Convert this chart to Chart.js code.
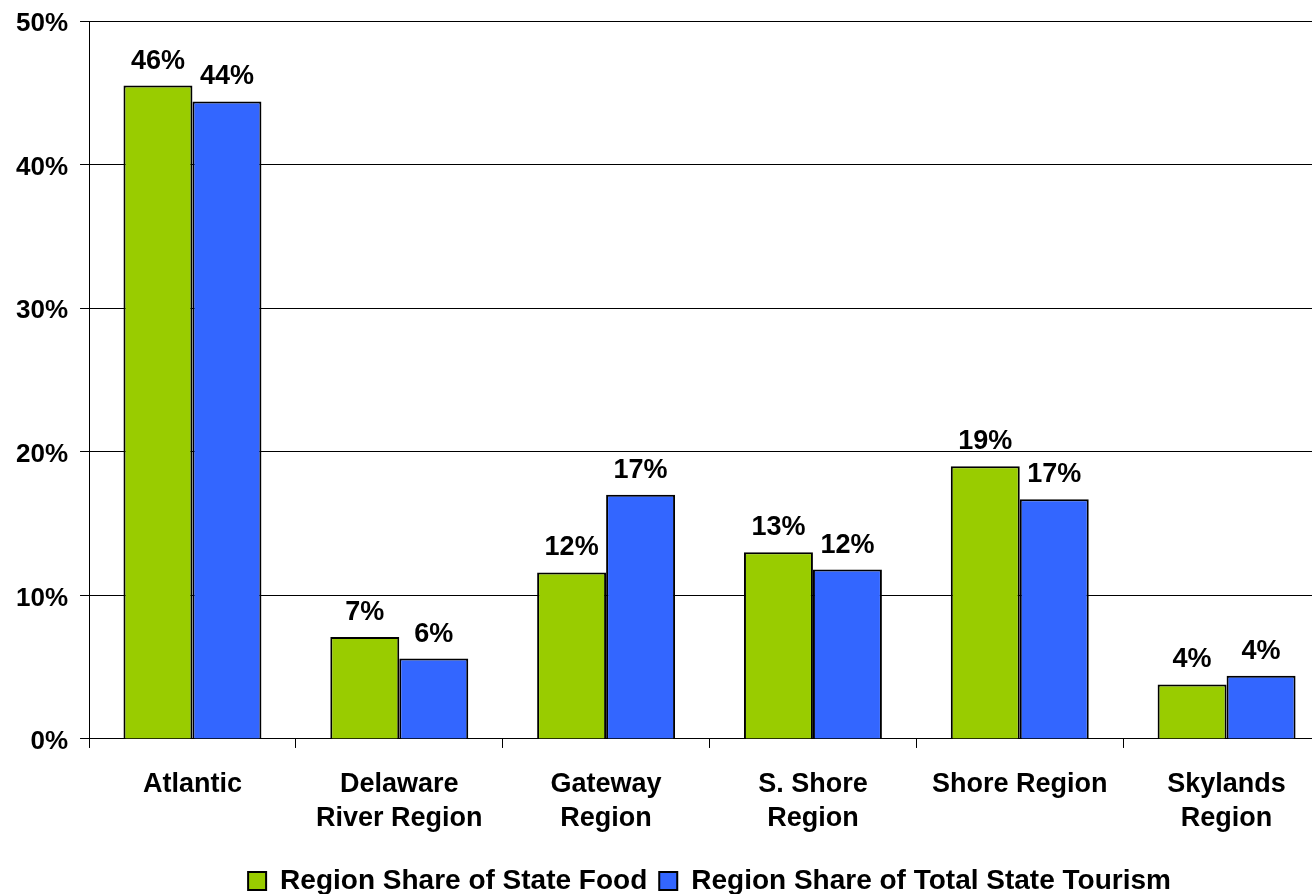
<!DOCTYPE html>
<html>
<head>
<meta charset="utf-8">
<script src="https://cdn.jsdelivr.net/npm/chart.js@4"></script>
<style>
  body { margin: 0; background: #fff; overflow: hidden; }
  #wrap { width: 1312px; height: 894px; overflow: hidden; }
</style>
</head>
<body>
<div id="wrap"><canvas id="grafico" width="1336" height="894"></canvas></div>
<script>
// regioes e valores (%)
var regioes = ['Atlantic', ['Delaware', 'River Region'], ['Gateway', 'Region'], ['S. Shore', 'Region'], 'Shore Region', ['Skylands', 'Region']];
var food = [45.5, 7.1, 11.6, 13.0, 19.0, 3.8];
var tourism = [44.4, 5.6, 17.0, 11.8, 16.7, 4.4];
var yTicks = [0, 10, 20, 30, 40, 50];

Chart.defaults.font.family = '"Liberation Sans", Arial, sans-serif';
Chart.defaults.font.weight = 'bold';
Chart.defaults.color = '#000';

// rotulos em cima das barras
const rotulos = {
    id: 'rotulos',
    afterDatasetsDraw(chart) {
        const ctx = chart.ctx;
        ctx.save();
        ctx.font = 'bold 27px "Liberation Sans", Arial, sans-serif';
        ctx.fillStyle = '#000';
        ctx.textAlign = 'center';
        ctx.textBaseline = 'alphabetic';
        chart.data.datasets.forEach(function (ds, i) {
            chart.getDatasetMeta(i).data.forEach(function (bar, j) {
                ctx.fillText(Math.round(ds.data[j]) + '%', bar.x, bar.y - 17);
            });
        });
        ctx.restore();
    }
};

const data = {
    labels: regioes,
    datasets: [{
        label: 'Region Share of State Food',
        backgroundColor: '#99cc00',
        borderColor: '#000',
        borderWidth: 2,
        data: food
    }, {
        label: 'Region Share of Total State Tourism',
        backgroundColor: '#3366ff',
        borderColor: '#000',
        borderWidth: 2,
        data: tourism
    }]
};

const config = {
    type: 'bar',
    data: data,
    plugins: [rotulos],
    options: {
        responsive: false,
        animation: false,
        layout: { padding: { top: 21, left: 4, right: 6, bottom: -11 } },
        datasets: { bar: { categoryPercentage: 0.667, barPercentage: 1 } },
        plugins: {
            tooltip: { enabled: false },
            legend: {
                position: 'bottom',
                fullSize: false,
                labels: {
                    font: { size: 28, weight: 'bold' },
                    boxWidth: 18,
                    boxHeight: 18,
                    padding: 12,
                    color: '#000'
                }
            }
        },
        scales: {
            y: {
                min: 0,
                max: 50,
                afterBuildTicks: function (axis) {
                    axis.ticks = yTicks.map(function (v) { return { value: v }; });
                },
                ticks: {
                    font: { size: 26, weight: 'bold', lineHeight: 0.6 },
                    color: '#000',
                    padding: 12,
                    labelOffset: 3,
                    callback: function (v) { return v + '%'; }
                },
                grid: { color: '#000', lineWidth: 1, tickLength: 9 },
                border: { color: '#000', width: 1 }
            },
            x: {
                afterFit: function (escala) { escala.height -= 1; },
                ticks: { font: { size: 27, weight: 'bold', lineHeight: 1.26 }, color: '#000', padding: 20 },
                grid: { offset: true, drawOnChartArea: false, color: '#000', tickLength: 9 },
                border: { color: '#000', width: 1 }
            }
        }
    }
};

const grafico = new Chart(document.getElementById('grafico'), config);
</script>
</body>
</html>
